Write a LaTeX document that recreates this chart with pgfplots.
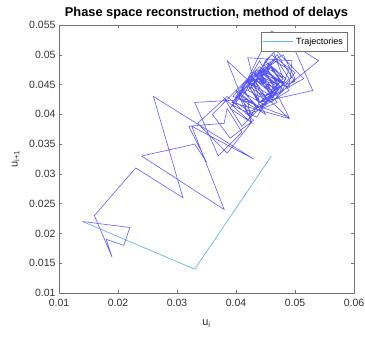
\documentclass[border=0pt]{standalone}
\usepackage{fontspec}
\setmainfont{Liberation Sans}
\usepackage{pgfplots}
\pgfplotsset{compat=1.18}
\definecolor{lightblue}{RGB}{110,180,225}
\definecolor{darkline}{RGB}{85,85,255}
\definecolor{txtgray}{RGB}{50,50,50}
\begin{document}
\begin{tikzpicture}
\begin{axis}[
  scale only axis,
  width=295pt, height=268pt,
  xmin=0.01, xmax=0.06, ymin=0.01, ymax=0.055,
  xtick={0.01,0.02,0.03,0.04,0.05,0.06},
  ytick={0.01,0.015,0.02,0.025,0.03,0.035,0.04,0.045,0.05,0.055},
  scaled ticks=false,
  /pgf/number format/assume math mode=true,
  /pgf/number format/.cd, fixed, precision=3, /pgfplots/.cd,
  tick align=inside,
  major tick length=3pt,
  axis line style={black!55, line width=0.5pt},
  tick style={black!55, line width=0.5pt},
  ticklabel style={font=\fontsize{10.5}{12}\selectfont, text=txtgray},
  xticklabel style={yshift=-3pt},
  title={\textbf{Phase space reconstruction, method of delays}},
  title style={font=\fontsize{12.8}{14}\selectfont, yshift=-4pt},
  xlabel={u\textsubscript{i}},
  ylabel={u\textsubscript{i+1}},
  label style={font=\fontsize{11}{13}\selectfont, text=txtgray},
  xlabel style={yshift=-6pt},
  ylabel style={yshift=3pt},
  legend style={at={(1,1)}, anchor=north east, xshift=-7pt, yshift=-7pt,
    draw=black!55, font=\fontsize{9}{11}\selectfont, inner xsep=2pt, inner ysep=3.5pt,
    cells={anchor=west}},
]
\addplot[lightblue, line width=0.7pt,
  legend image code/.code={\draw[lightblue, line width=1.4pt] (0pt,0pt) -- (30pt,0pt);}] coordinates {
(0.046,0.033) (0.033,0.014) (0.014,0.022)
};
\addlegendentry{Trajectories}
\addplot[darkline, line width=0.55pt, forget plot] coordinates {
(0.014,0.022) (0.022,0.021) (0.021,0.018) (0.018,0.019) (0.019,0.016)
(0.016,0.023) (0.023,0.031) (0.031,0.026) (0.026,0.043) (0.043,0.0325)
(0.0325,0.038) (0.038,0.024) (0.024,0.033) (0.033,0.035) (0.035,0.032)
(0.032,0.038) (0.038,0.0385) (0.0385,0.041) (0.041,0.037) (0.037,0.033)
(0.033,0.042) (0.042,0.0425) (0.0425,0.0385) (0.0385,0.0335) (0.0335,0.0385)
(0.0385,0.043) (0.043,0.039) (0.039,0.036) (0.036,0.040) (0.040,0.044)
(0.044,0.041) (0.041,0.038) (0.038,0.0427) (0.0427,0.0385) (0.0385,0.049)
(0.049,0.0393) (0.0393,0.042) (0.042,0.045) (0.045,0.040) (0.040,0.043)
(0.043,0.047) (0.047,0.042) (0.042,0.040) (0.040,0.044) (0.044,0.048)
(0.048,0.045) (0.045,0.049) (0.049,0.044) (0.044,0.041) (0.041,0.043)
(0.043,0.046) (0.046,0.050) (0.050,0.047) (0.047,0.043) (0.043,0.047)
(0.047,0.045) (0.045,0.042) (0.042,0.046) (0.046,0.054) (0.054,0.049)
(0.049,0.045) (0.045,0.047) (0.047,0.044) (0.044,0.046) (0.046,0.048)
(0.048,0.046) (0.046,0.0515) (0.0515,0.046) (0.046,0.043) (0.043,0.045)
(0.045,0.049) (0.049,0.053) (0.053,0.044) (0.044,0.042) (0.042,0.045)
(0.045,0.047) (0.047,0.044) (0.044,0.041) (0.041,0.044) (0.044,0.046)
(0.046,0.043) (0.043,0.040) (0.040,0.042) (0.042,0.045) (0.045,0.048)
(0.048,0.044) (0.044,0.042) (0.042,0.039) (0.039,0.041) (0.041,0.044)
(0.044,0.049) (0.049,0.0395) (0.0395,0.043) (0.043,0.047) (0.047,0.045)
(0.045,0.048) (0.048,0.046) (0.046,0.044) (0.044,0.047) (0.047,0.049)
(0.049,0.046) (0.046,0.043) (0.043,0.045) (0.045,0.047) (0.047,0.044)
(0.044,0.042) (0.042,0.046) (0.046,0.048) (0.048,0.045) (0.045,0.043)
(0.043,0.046) (0.046,0.044) (0.044,0.042) (0.042,0.0495) (0.0495,0.049)
(0.049,0.0445) (0.0445,0.047) (0.047,0.050) (0.050,0.0455) (0.0455,0.044)
(0.044,0.047) (0.047,0.0435) (0.0435,0.041) (0.041,0.0445) (0.0445,0.048)
(0.048,0.050) (0.050,0.046) (0.046,0.042) (0.042,0.044) (0.044,0.0465)
(0.0465,0.049) (0.049,0.0475) (0.0475,0.044) (0.044,0.0455) (0.0455,0.0485)
(0.0485,0.046) (0.046,0.0425) (0.0425,0.0405) (0.0405,0.043) (0.043,0.0465)
(0.0465,0.045) (0.045,0.0415) (0.0415,0.0435) (0.0435,0.0475) (0.0475,0.0445)
(0.0445,0.043) (0.043,0.046) (0.046,0.0435) (0.0435,0.0395) (0.0395,0.0415)
(0.0415,0.045) (0.045,0.0475) (0.0475,0.0455) (0.0455,0.0425) (0.0425,0.0445)
(0.0445,0.047) (0.047,0.045)
};
\end{axis}
\path (current axis.south west) ++(-59pt,-45pt) coordinate (bbsw);
\path (current axis.north east) ++(11pt,25pt) coordinate (bbne);
\pgfresetboundingbox
\useasboundingbox (bbsw) rectangle (bbne);
\end{tikzpicture}
\end{document}
